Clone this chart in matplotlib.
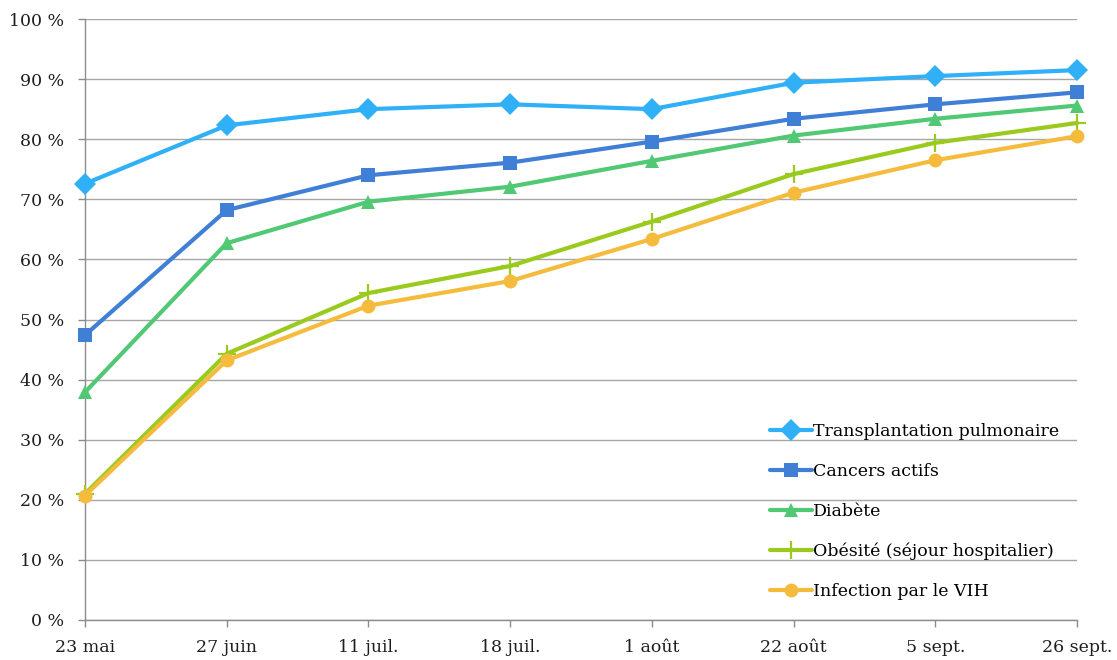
import matplotlib
matplotlib.use("Agg")
import matplotlib.pyplot as plt
from matplotlib.ticker import FuncFormatter

dates = ["23 mai", "27 juin", "11 juil.", "18 juil.", "1 août", "22 août", "5 sept.", "26 sept."]

transplantation = [72.6, 82.3, 85.0, 85.8, 85.0, 89.4, 90.5, 91.5]
cancers = [47.4, 68.2, 74.0, 76.1, 79.6, 83.4, 85.8, 87.8]
diabete = [37.9, 62.7, 69.6, 72.1, 76.4, 80.6, 83.4, 85.6]
obesite = [21.0, 44.3, 54.4, 58.9, 66.3, 74.2, 79.4, 82.7]
vih = [20.7, 43.2, 52.3, 56.4, 63.4, 71.1, 76.5, 80.5]

series = [
    ("Transplantation pulmonaire", transplantation, "#2FB0F7", "D", 11),
    ("Cancers actifs", cancers, "#3F7FD6", "s", 9.5),
    ("Diabète", diabete, "#50C874", "^", 10),
    ("Obésité (séjour hospitalier)", obesite, "#9ACA1E", "+", 13),
    ("Infection par le VIH", vih, "#F5BB3D", "o", 10),
]

plt.rcParams["font.family"] = ["DejaVu Serif"]

fig = plt.figure(figsize=(11.17, 6.6), dpi=100)
ax = fig.add_axes([85 / 1117, 40 / 660, (1077 - 85) / 1117, (620 - 19) / 660])

x = list(range(len(dates)))
for label, vals, color, marker, ms in series:
    ax.plot(x, vals, color=color, lw=3, marker=marker, ms=ms,
            mew=1.6 if marker == "+" else 0, mec=color, label=label,
            solid_capstyle="round", clip_on=False, zorder=3)

ax.set_xlim(0, len(dates) - 1)
ax.set_ylim(0, 100)
ax.set_yticks(range(0, 101, 10))
ax.yaxis.set_major_formatter(FuncFormatter(lambda v, p: f"{int(v)} %"))
ax.set_xticks(x)
ax.set_xticklabels(dates)

ax.grid(axis="y", color="#A6A6A6", lw=1)
ax.set_axisbelow(True)
for side in ("top", "right"):
    ax.spines[side].set_visible(False)
for side in ("left", "bottom"):
    ax.spines[side].set_color("#8C8C8C")
    ax.spines[side].set_linewidth(1)
ax.tick_params(axis="both", colors="#8C8C8C", width=1,
               labelcolor="#1E1E1E", labelsize=12.5)
ax.tick_params(axis="y", length=5, pad=10)
ax.tick_params(axis="x", length=5, pad=9)

leg = ax.legend(loc="upper left", bbox_to_anchor=(678 / 992, (620 - 416) / 601),
                frameon=False, fontsize=12.5, handlelength=2.4, handletextpad=0.1,
                labelspacing=1.32, borderaxespad=0)

fig.savefig("out.png", dpi=100)
